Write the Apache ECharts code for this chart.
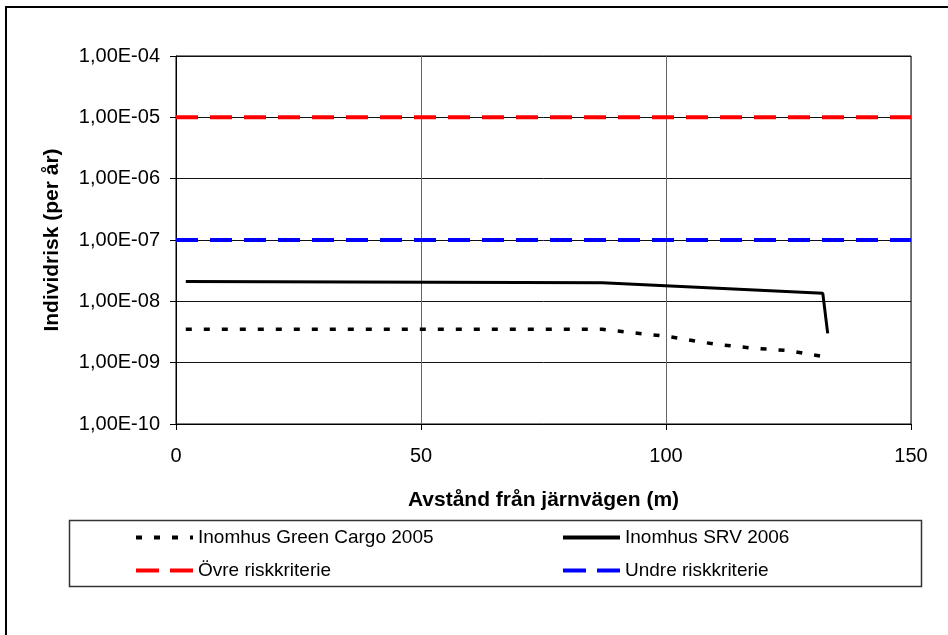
<!DOCTYPE html>
<html>
<head>
<meta charset="utf-8">
<script src="https://cdn.jsdelivr.net/npm/echarts@6/dist/echarts.min.js"></script>
<style>
html,body{margin:0;padding:0;background:#fff;}
#chart{width:948px;height:635px;}
</style>
</head>
<body>
<div id="chart"></div>
<script>
// Data
const distGreenCargo = [2, 87, 92, 100, 110, 118, 125, 133];
const riskGreenCargo = [3.5e-9, 3.5e-9, 3.15e-9, 2.7e-9, 2.0e-9, 1.72e-9, 1.57e-9, 1.22e-9];
const distSRV = [2, 87, 132, 133];
const riskSRV = [2.1e-8, 2.0e-8, 1.35e-8, 3.0e-9];
const distCriteria = [0, 150];
const riskUpper = [1e-5, 1e-5];
const riskLower = [1e-7, 1e-7];
const seriesNames = ['Inomhus Green Cargo 2005', 'Inomhus SRV 2006', 'Övre riskkriterie', 'Undre riskkriterie'];
const xTitle = 'Avstånd från järnvägen (m)';
const yTitle = 'Individrisk (per år)';

function pairs(xs, ys) { return xs.map((x, i) => [x, ys[i]]); }
function sciLabel(v) {
  const e = Math.round(Math.log10(v));
  return '1,00E' + (e < 0 ? '-' : '+') + String(Math.abs(e)).padStart(2, '0');
}

// legend icon shapes (dash patterns drawn as filled paths)
const ICON_DOTTED = 'path://M0,0h6v4h-6z M18,0h6v4h-6z M36,0h6v4h-6z M54,0h3v4h-3z';
const ICON_SOLID = 'path://M0,0h57v4h-57z';
const ICON_DASHED = 'path://M0,0h23v4h-23z M34,0h23v4h-23z';

const FONT = 'Liberation Sans';
const legendCommon = {
  orient: 'vertical', top: 528, padding: 0,
  itemWidth: 57, itemHeight: 4, itemGap: 14,
  textStyle: { fontFamily: FONT, fontSize: 19, color: '#000' },
  selectedMode: false
};
const chart = echarts.init(document.getElementById('chart'));
chart.setOption({
  animation: false,
  backgroundColor: '#fff',
  textStyle: { fontFamily: FONT, color: '#000' },
  grid: { left: 176, top: 56, right: 37, bottom: 211, show: true, borderColor: '#000', borderWidth: 1, backgroundColor: 'transparent' },
  xAxis: {
    type: 'value', min: 0, max: 150, interval: 50,
    name: xTitle, nameLocation: 'middle', nameGap: 66,
    nameTextStyle: { fontFamily: FONT, fontWeight: 'bold', fontSize: 21, color: '#000' },
    axisLine: { show: true, lineStyle: { color: '#000', width: 1 } },
    axisTick: { show: true, inside: false, length: 6, lineStyle: { color: '#000' } },
    axisLabel: { fontFamily: FONT, fontSize: 20, color: '#000', margin: 22 },
    splitLine: { show: true, lineStyle: { color: '#666', width: 1 } }
  },
  yAxis: {
    type: 'log', logBase: 10, min: 1e-10, max: 1e-4, splitNumber: 6,
    name: yTitle, nameLocation: 'middle', nameGap: 113, nameRotate: 90,
    nameTextStyle: { fontFamily: FONT, fontWeight: 'bold', fontSize: 21, color: '#000' },
    axisLine: { show: true, lineStyle: { color: '#000', width: 1 } },
    axisTick: { show: true, inside: false, length: 6, lineStyle: { color: '#000' } },
    axisLabel: { fontFamily: FONT, fontSize: 20, color: '#000', margin: 16, formatter: sciLabel },
    splitLine: { show: true, lineStyle: { color: '#111', width: 1 } },
    minorTick: { show: false }
  },
  legend: [
    Object.assign({}, legendCommon, {
      left: 136,
      data: [
        { name: seriesNames[0], icon: ICON_DOTTED },
        { name: seriesNames[2], icon: ICON_DASHED }
      ]
    }),
    Object.assign({}, legendCommon, {
      left: 563,
      data: [
        { name: seriesNames[1], icon: ICON_SOLID },
        { name: seriesNames[3], icon: ICON_DASHED }
      ]
    })
  ],
  graphic: [
    { type: 'rect', shape: { x: 6, y: 7, width: 960, height: 650 }, style: { fill: 'none', stroke: '#000', lineWidth: 2 }, silent: true, z: -1 },
    { type: 'rect', shape: { x: 69.5, y: 520.5, width: 852, height: 66 }, style: { fill: 'none', stroke: '#333', lineWidth: 1.5 }, silent: true, z: -1 }
  ],
  series: [
    {
      name: seriesNames[2], type: 'line', data: pairs(distCriteria, riskUpper), symbol: 'none',
      lineStyle: { color: '#ff0000', width: 4, type: [22, 12] }, itemStyle: { color: '#ff0000' }, z: 3
    },
    {
      name: seriesNames[3], type: 'line', data: pairs(distCriteria, riskLower), symbol: 'none',
      lineStyle: { color: '#0000ff', width: 4, type: [22, 12] }, itemStyle: { color: '#0000ff' }, z: 3
    },
    {
      name: seriesNames[0], type: 'line', data: pairs(distGreenCargo, riskGreenCargo), symbol: 'none',
      lineStyle: { color: '#000', width: 3.5, type: [6, 12] }, itemStyle: { color: '#000' }, z: 4
    },
    {
      name: seriesNames[1], type: 'line', data: pairs(distSRV, riskSRV), symbol: 'none',
      lineStyle: { color: '#000', width: 3 }, itemStyle: { color: '#000' }, z: 4
    }
  ]
});
</script>
</body>
</html>
